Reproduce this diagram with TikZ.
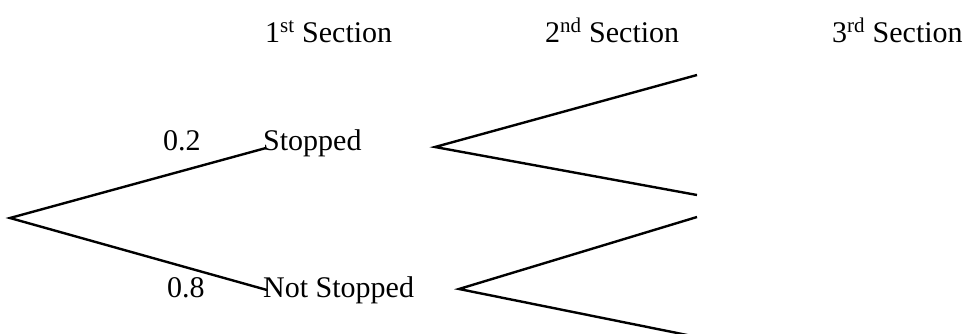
\documentclass[tikz,border=0pt]{standalone}
\usepackage{fontspec}
\setmainfont{Liberation Serif}
\begin{document}
\begin{tikzpicture}[x=1pt,y=-1pt,
  lbl/.style={anchor=base west,inner sep=0pt,font=\fontsize{30}{36}\selectfont},
  branch/.style={line width=2.4pt,line join=miter}]
\useasboundingbox (0,0) rectangle (969,333);
\clip (0,0) rectangle (969,333);
% headers
\node[lbl] (h1) at (265,42) {1\textsuperscript{st} Section};
\node[lbl] (h2) at (545,42) {2\textsuperscript{nd} Section};
\node[lbl] (h3) at (832,42) {3\textsuperscript{rd} Section};
% labels
\node[lbl] (p1) at (163,150) {0.2};
\node[lbl] (s1) at (263,150) {Stopped};
\node[lbl] (p2) at (167,297) {0.8};
\node[lbl] (s2) at (263,297) {Not Stopped};
% branch points
\coordinate (root) at (10,218);
\coordinate (e1) at (266,148);
\coordinate (e2) at (267,290);
\coordinate (r2) at (435,147);
\coordinate (r3) at (459,289);
\coordinate (a1) at (697,75);
\coordinate (a2) at (697,195);
\coordinate (b1) at (697,217);
\coordinate (b2) at (697,337);
\draw[branch] (e1) -- (root) -- (e2);
\draw[branch] (a1) -- (r2) -- (a2);
\draw[branch] (b1) -- (r3) -- (b2);
\end{tikzpicture}
\end{document}
